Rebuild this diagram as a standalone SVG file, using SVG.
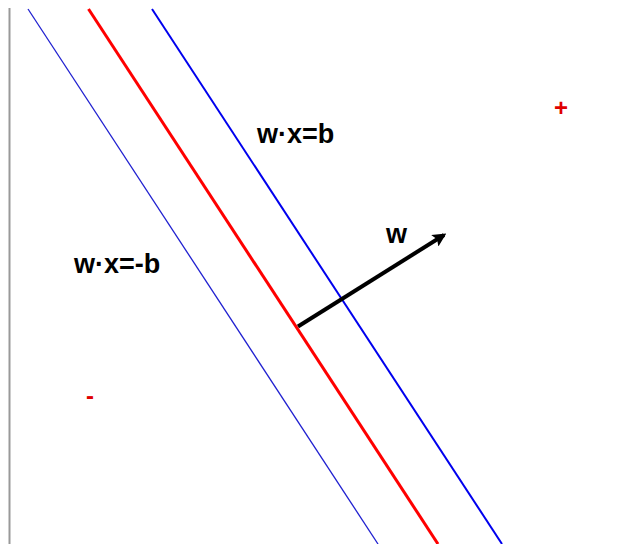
<svg xmlns="http://www.w3.org/2000/svg" width="644" height="544" viewBox="0 0 644 544">
<defs>
<style>
.lbl{font-family:"Liberation Sans",Arial,sans-serif;font-weight:bold;font-size:27px;fill:#000}
.sgn{font-family:"Liberation Sans",Arial,sans-serif;font-weight:bold;font-size:24px;fill:#e00000;text-anchor:middle}
</style>
<marker id="ah" viewBox="0 0 10 10" refX="8" refY="5" markerWidth="3.4" markerHeight="3.4" orient="auto" markerUnits="strokeWidth">
<path d="M0,0 L10,5 L0,10 L2,5 z" fill="#000"/>
</marker>
</defs>
<rect width="644" height="544" fill="#fff"/>
<g id="axis"><line x1="9.5" y1="8" x2="9.5" y2="544" stroke="#999" stroke-width="2"/></g>
<g id="connectors">
<line id="minus-margin" x1="28" y1="9" x2="378" y2="544" stroke="#2020d0" stroke-width="1.3"/>
<line id="hyperplane" x1="88.5" y1="9" x2="438" y2="544" stroke="#ff0000" stroke-width="3"/>
<line id="plus-margin" x1="152" y1="9" x2="502" y2="544" stroke="#0000ee" stroke-width="2"/>
<line id="w-vector" x1="298" y1="326.5" x2="444" y2="235" stroke="#000" stroke-width="4" marker-end="url(#ah)"/>
</g>
<g id="label-plus-margin"><text class="lbl" x="257" y="143">w·x=b</text></g>
<g id="label-minus-margin"><text class="lbl" x="74" y="273">w·x=-b</text></g>
<g id="label-w"><text class="lbl" x="386" y="243">w</text></g>
<g id="label-plus"><text class="sgn" x="561" y="116">+</text></g>
<g id="label-minus"><text class="sgn" x="90" y="404">-</text></g>
</svg>
